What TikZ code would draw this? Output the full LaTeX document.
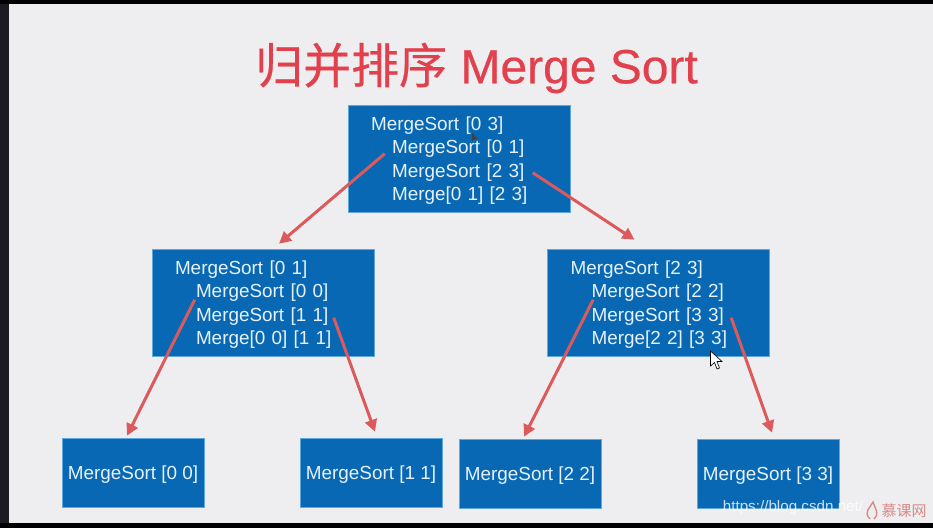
\documentclass[tikz,border=0pt]{standalone}
\usepackage{fontspec}
\setmainfont{Liberation Sans}
\newfontfamily\cjkfont{Noto Sans CJK SC}
\newfontfamily\titlecjk[FakeBold=0.5]{Noto Sans CJK SC}
\newfontfamily\titlelatin[FakeBold=0.5]{Liberation Sans}
\usetikzlibrary{arrows.meta,calc}
\definecolor{SortPaper}{HTML}{EEEEF0}
\definecolor{SortEdge}{HTML}{1C1B22}
\definecolor{SortBlue}{HTML}{0868B4}
\definecolor{SortRim}{HTML}{5FA8DC}
\definecolor{SortText}{HTML}{E6F1FA}
\definecolor{SortRed}{HTML}{DC5A5C}
\definecolor{SortTitle}{HTML}{E2404C}
\definecolor{SortMark}{HTML}{D98A86}
\newcommand{\Ind}{\hspace*{21pt}}
\tikzset{
  callbox/.style={draw=SortRim,line width=0.6pt,fill=SortBlue,inner sep=0pt,
    minimum width=222pt,minimum height=107pt},
  leafbox/.style={draw=SortRim,line width=0.6pt,fill=SortBlue,inner sep=0pt,
    minimum width=142pt,minimum height=69pt},
  calltext/.style={text=SortText,inner sep=0pt,text width=176pt,align=left,yshift=-2pt,
    font=\fontsize{18.9}{23.3}\selectfont},
  leaftext/.style={text=SortText,inner sep=0pt,yshift=-2pt,
    font=\fontsize{18.9}{23.3}\selectfont},
  flow/.style={-{Triangle[length=12pt,width=12pt]},line width=3pt,SortRed}
}
\begin{document}
\begin{tikzpicture}[x=1pt,y=-1pt]
  \useasboundingbox (0,0) rectangle (933,528);
  \fill[SortEdge] (0,0) rectangle (933,528);
  \fill[black] (0,0) rectangle (933,4);
  \fill[black] (0,523) rectangle (933,528);
  \fill[SortPaper] (9,4) rectangle (933,523);
  \node[text=SortTitle,font=\fontsize{48}{56}\selectfont,inner sep=0pt] (title) at (476.5,68) {{\titlecjk 归并排序} {\titlelatin Merge Sort}};
  % calls
  \node[callbox] (top) at (459,158.5) {};
  \node[callbox] (left) at (263,302.5) {};
  \node[callbox] (right) at (658.5,302.5) {};
  \node[calltext] (toptext) at (top) {MergeSort [0 3]\\\Ind MergeSort [0 1]\\\Ind MergeSort [2 3]\\\Ind Merge[0 1] [2 3]};
  \node[calltext] (lefttext) at (left) {MergeSort [0 1]\\\Ind MergeSort [0 0]\\\Ind MergeSort [1 1]\\\Ind Merge[0 0] [1 1]};
  \node[calltext] (righttext) at (right) {MergeSort [2 3]\\\Ind MergeSort [2 2]\\\Ind MergeSort [3 3]\\\Ind Merge[2 2] [3 3]};
  % leaves
  \node[leafbox] (leafa) at (133,472.5) {};
  \node[leafbox] (leafb) at (371,472.5) {};
  \node[leafbox] (leafc) at (530,473.5) {};
  \node[leafbox] (leafd) at (768,473.5) {};
  \node[leaftext] (leafatext) at (leafa) {MergeSort [0 0]};
  \node[leaftext] (leafbtext) at (leafb) {MergeSort [1 1]};
  \node[leaftext] (leafctext) at (leafc) {MergeSort [2 2]};
  \node[leaftext] (leafdtext) at (leafd) {MergeSort [3 3]};
  % arrows
  \draw[flow] ($(top.north west)+(37,49)$) -- ($(left.north)+(16,-5)$);
  \draw[flow] ($(top.north west)+(185,68)$) -- ($(right.north)+(-24,-9)$);
  \draw[flow] ($(left.north west)+(43,51)$) -- ($(leafa.north)+(-6,-2)$);
  \draw[flow] ($(left.north west)+(182,69)$) -- ($(leafb.north)+(4,-6)$);
  \draw[flow] ($(right.north west)+(46,51)$) -- ($(leafc.north)+(-6,-2)$);
  \draw[flow] ($(right.north west)+(184,69)$) -- ($(leafd.north)+(4,-6)$);
  % pointers
  \draw[black,fill=white,line width=0.6pt] (710.5,351) -- (710.5,366) -- (714.5,362.5) -- (717,369) -- (719.5,368) -- (717,361.5) -- (722,361.5) -- cycle;
  \fill[black!75] (472,133) -- (472,141) -- (474,139.5) -- (478,139) -- cycle;
  % watermark
  \node[text=white,opacity=0.8,font=\fontsize{15.2}{16}\selectfont,inner sep=0pt] (mark) at (793,508) {https://blog.csdn.net/};
  \node[text=SortMark,font=\cjkfont\fontsize{15}{16}\selectfont,inner sep=0pt] (logo) at (904,511) {慕课网};
  \draw[SortMark,line width=1.4pt] (870,519) .. controls (863,512) and (870,508) .. (873,502) .. controls (875,509) and (880,513) .. (874,519);
\end{tikzpicture}
\end{document}
